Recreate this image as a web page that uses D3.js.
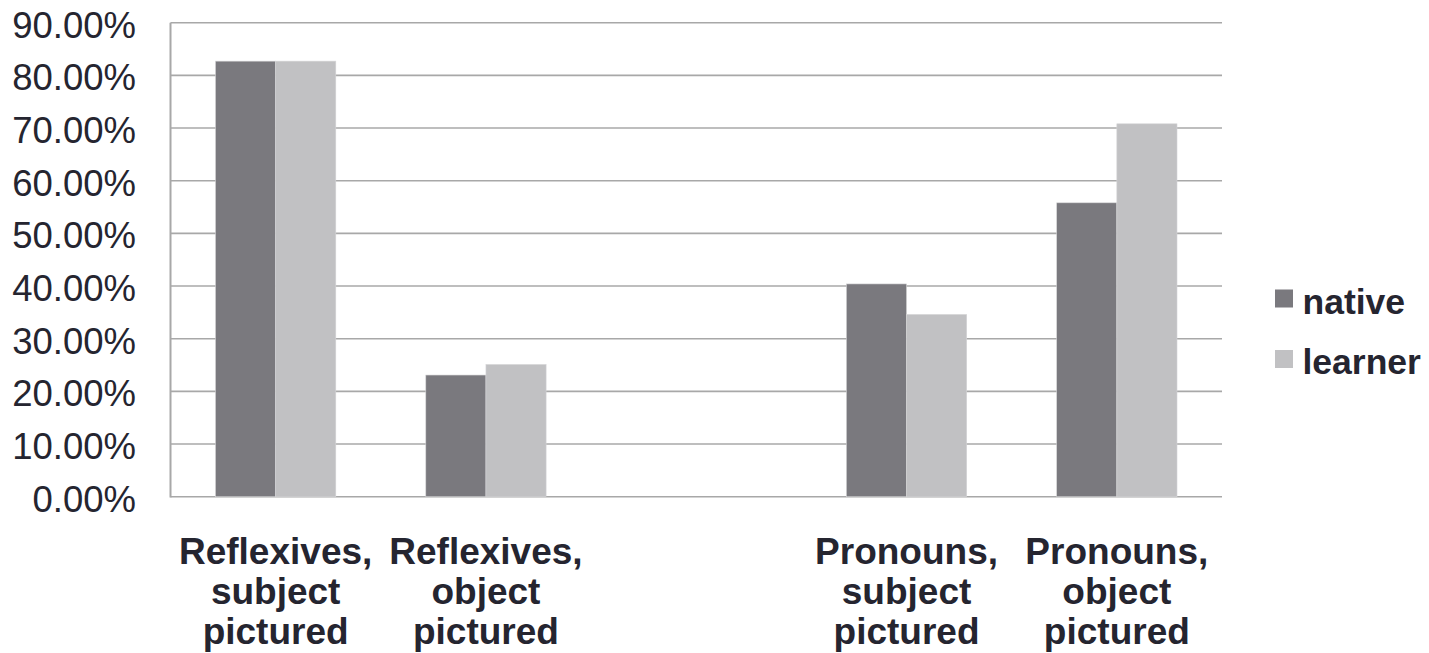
<!DOCTYPE html>
<html>
<head>
<meta charset="utf-8">
<script src="https://cdn.jsdelivr.net/npm/d3@7"></script>
<style>
  html, body { margin: 0; padding: 0; background: #ffffff; }
  svg { display: block; }
  text { font-family: "Liberation Sans", Arial, Helvetica, sans-serif; fill: #252530; }
</style>
</head>
<body>
<svg id="chart" width="1429" height="653"></svg>
<script>
// Share of responses per condition (fractions of 1); the third slot is an empty spacer.
const categories = [
  "Reflexives, subject pictured",
  "Reflexives, object pictured",
  "",
  "Pronouns, subject pictured",
  "Pronouns, object pictured"
];
const seriesNames = ["native", "learner"];
const nativeValues  = [0.827, 0.231, null, 0.404, 0.558];
const learnerValues = [0.827, 0.251, null, 0.346, 0.708];
const yTicks = [0, 0.1, 0.2, 0.3, 0.4, 0.5, 0.6, 0.7, 0.8, 0.9];

const colors = { native: "#7a797e", learner: "#c1c1c3" };
const gridColor = "#a8a8a8";

const svg = d3.select("#chart");
const plot = { left: 170.5, right: 1222, top: 22.7, bottom: 496.7 };

const x = d3.scaleBand()
  .domain(categories.map((c, i) => i))
  .range([plot.left, plot.right])
  .paddingInner(0.428)
  .paddingOuter(0.214);

const xInner = d3.scaleBand()
  .domain(seriesNames)
  .range([0, x.bandwidth()])
  .padding(0);

const y = d3.scaleLinear().domain([0, 0.9]).range([plot.bottom, plot.top]);

// Horizontal gridlines
svg.append("g")
  .selectAll("line")
  .data(yTicks)
  .join("line")
  .attr("x1", plot.left)
  .attr("x2", plot.right)
  .attr("y1", d => y(d))
  .attr("y2", d => y(d))
  .attr("stroke", gridColor)
  .attr("stroke-width", 1.6);

// Y axis labels
const fmt = d3.format(".2%");
svg.append("g")
  .selectAll("text")
  .data(yTicks)
  .join("text")
  .attr("x", 136)
  .attr("y", d => y(d) + 15)
  .attr("text-anchor", "end")
  .style("font-size", "36.5px")
  .text(d => fmt(d));

// Bars
const rows = categories.map((c, i) => ({
  i,
  values: [
    { key: "native", value: nativeValues[i] },
    { key: "learner", value: learnerValues[i] }
  ].filter(v => v.value != null)
}));

const groups = svg.append("g")
  .selectAll("g")
  .data(rows)
  .join("g")
  .attr("transform", d => `translate(${x(d.i)},0)`);

groups.selectAll("rect")
  .data(d => d.values)
  .join("rect")
  .attr("x", d => xInner(d.key))
  .attr("width", xInner.bandwidth())
  .attr("y", d => y(d.value))
  .attr("height", d => y(0) - y(d.value))
  .attr("fill", d => colors[d.key])
  .attr("stroke", "#d4d4d6")
  .attr("stroke-width", 0.6);

// Vertical axis line
svg.append("line")
  .attr("x1", plot.left).attr("x2", plot.left)
  .attr("y1", plot.top).attr("y2", plot.bottom + 0.8)
  .attr("stroke", gridColor)
  .attr("stroke-width", 2);

// Category labels, one word per line
const labelLines = [564, 603.5, 643.5];
svg.append("g")
  .selectAll("text")
  .data(categories.map((c, i) => ({ i, words: c ? c.split(" ") : [] })))
  .join("text")
  .attr("text-anchor", "middle")
  .style("font-size", "37px")
  .style("font-weight", "bold")
  .each(function (d) {
    const t = d3.select(this);
    d.words.forEach((w, k) => {
      t.append("tspan")
        .attr("x", x(d.i) + x.bandwidth() / 2)
        .attr("y", labelLines[k])
        .text(w);
    });
  });

// Legend
const legend = svg.append("g")
  .selectAll("g")
  .data(seriesNames)
  .join("g")
  .attr("transform", (d, i) => `translate(1275,${289.5 + i * 60.5})`);

legend.append("rect")
  .attr("width", 18)
  .attr("height", 18)
  .attr("fill", d => colors[d]);

legend.append("text")
  .attr("x", 27.5)
  .attr("y", 24)
  .style("font-size", "35.5px")
  .style("font-weight", "bold")
  .text(d => d);
</script>
</body>
</html>
